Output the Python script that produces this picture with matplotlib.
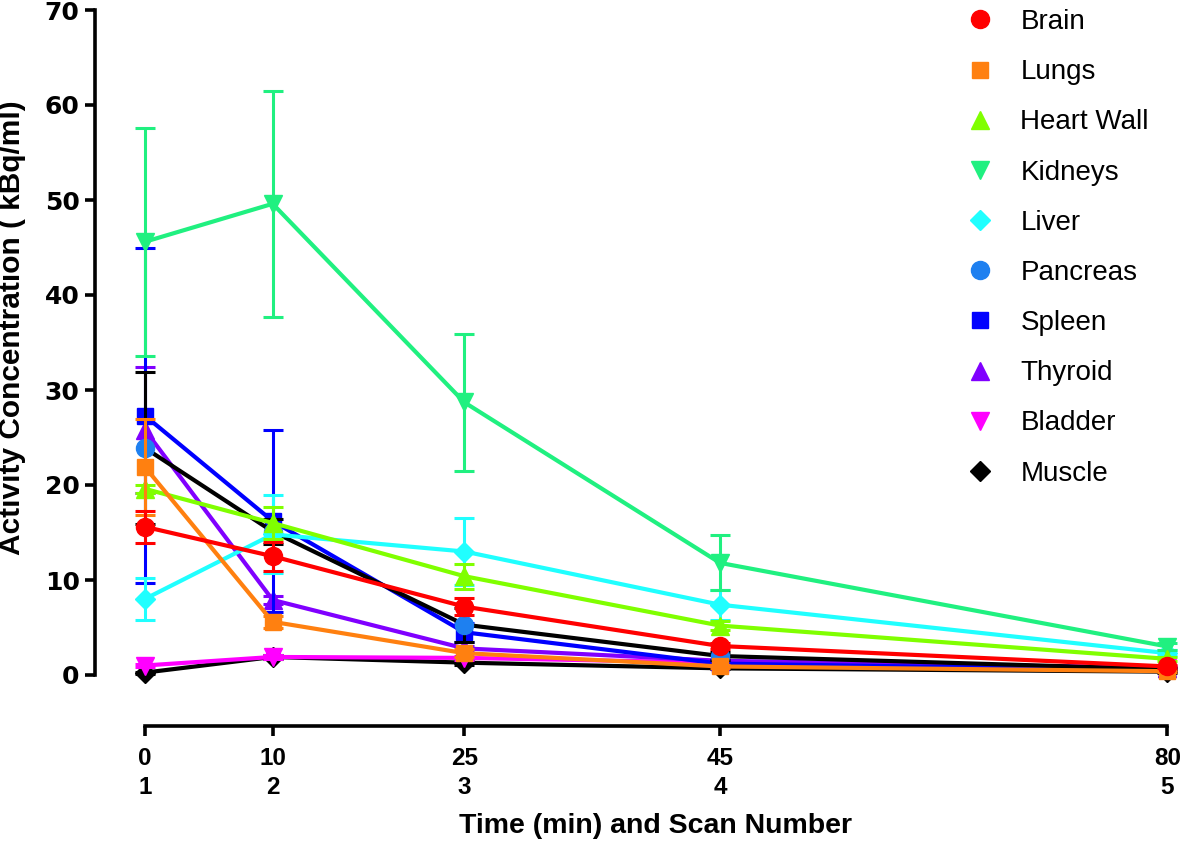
import matplotlib.pyplot as plt
from matplotlib.lines import Line2D
from matplotlib import font_manager

# time points (min) and scan numbers
times = [0, 10, 25, 45, 80]
scans = [1, 2, 3, 4, 5]

organs = ['Brain', 'Lungs', 'Heart Wall', 'Kidneys', 'Liver',
          'Pancreas', 'Spleen', 'Thyroid', 'Bladder', 'Muscle']

brain = [15.6, 12.5, 7.2, 3.05, 0.9]
brain_err = [1.7, 1.5, 0.9, 0.3, 0.2]
lungs = [21.9, 5.6, 2.3, 0.9, 0.4]
lungs_err = [5.1, 0.6, 0.4, 0.2, 0.1]
heart = [19.6, 16.0, 10.4, 5.2, 1.7]
heart_err = [0.4, 1.7, 1.3, 0.5, 0.2]
kidneys = [45.6, 49.6, 28.7, 11.8, 3.0]
kidneys_err = [12.0, 11.9, 7.2, 2.9, 0.4]
liver = [8.0, 14.8, 13.0, 7.4, 2.3]
liver_err = [2.2, 4.1, 3.5, 1.6, 0.3]
pancreas = [23.9, 15.1, 5.3, 2.0, 0.6]
pancreas_err = [8.0, 1.3, 1.8, 0.4, 0.1]
spleen = [27.3, 16.2, 4.5, 1.2, 0.5]
spleen_err = [17.6, 9.6, 1.0, 0.3, 0.1]
thyroid = [25.8, 7.9, 2.8, 1.5, 0.7]
thyroid_err = [6.6, 0.4, 0.3, 0.2, 0.1]
bladder = [1.0, 1.9, 1.8, 1.3, 0.8]
bladder_err = [0.2, 0.2, 0.2, 0.1, 0.1]
muscle = [0.25, 1.9, 1.3, 0.7, 0.35]
muscle_err = [0.1, 0.2, 0.2, 0.1, 0.1]

values = [brain, lungs, heart, kidneys, liver, pancreas, spleen, thyroid, bladder, muscle]
errors = [brain_err, lungs_err, heart_err, kidneys_err, liver_err,
          pancreas_err, spleen_err, thyroid_err, bladder_err, muscle_err]
markers = ['o', 's', '^', 'v', 'D', 'o', 's', '^', 'v', 'D']
mcolors = ['#FF0000', '#FF8010', '#80FF00', '#20F080', '#20FFFF',
           '#1E80F0', '#0000FF', '#8000FF', '#FF00FF', '#000000']
lcolors = ['#FF0000', '#FF8010', '#80FF00', '#20F080', '#20FFFF',
           '#000000', '#0000FF', '#8000FF', '#FF00FF', '#000000']
msizes = [13, 12, 13, 13, 10, 13, 12, 13, 13, 10]

names = {f.name for f in font_manager.fontManager.ttflist}
narrow = 'Liberation Sans Narrow' if 'Liberation Sans Narrow' in names else 'Liberation Sans'

fig = plt.figure(figsize=(11.81, 8.43), dpi=100)
ax = fig.add_axes([95/1181, 1 - 675/843, (1175 - 95)/1181, (675 - 10)/843])

for i in range(len(organs)):
    z = 20 - i
    ax.errorbar(times, values[i], yerr=errors[i], color=lcolors[i], lw=3,
                elinewidth=2.2, capsize=7.2, capthick=2.2, zorder=z, clip_on=False,
                marker='none')
    ax.plot(times, values[i], marker=markers[i], ms=msizes[i], color=mcolors[i],
            lw=0, zorder=z + 0.5, clip_on=False)

ax.set_xlim(-3.9, 80.6)
ax.set_ylim(0, 70)

for s in ['top', 'right']:
    ax.spines[s].set_visible(False)
ax.spines['left'].set_linewidth(2.6)
ax.spines['bottom'].set_linewidth(2.6)
ax.spines['bottom'].set_position(('outward', 36.5))
ax.spines['bottom'].set_bounds(0, 80)
ax.tick_params(axis='both', width=2.6, length=7, direction='out')
ax.tick_params(axis='y', pad=4)
ax.tick_params(axis='x', pad=8)

ax.set_yticks(range(0, 71, 10))
ax.set_xticks(times)
ax.set_xticklabels([f'{t}\n{s}' for t, s in zip(times, scans)])
for lab in ax.get_xticklabels():
    lab.set_fontfamily(narrow)
    lab.set_fontweight('bold')
    lab.set_fontsize(17.5)
    lab.set_linespacing(1.35)
for lab in ax.get_yticklabels():
    lab.set_fontfamily('DejaVu Sans')
    lab.set_fontweight('bold')
    lab.set_fontsize(18)

ax.set_ylabel('Activity Concentration ( kBq/ml)', fontfamily=narrow,
              fontweight='bold', fontsize=21.5)
ax.yaxis.set_label_coords(-0.064, 0.522)
ax.set_xlabel('Time (min) and Scan Number', fontfamily=narrow,
              fontweight='bold', fontsize=20.5)
ax.xaxis.set_label_coords(0.519, -0.208)

handles = [Line2D([], [], marker=markers[i], color=mcolors[i], lw=0, ms=msizes[i])
           for i in range(len(organs))]
fig.legend(handles, organs, loc='upper left', bbox_to_anchor=(955/1181, 1.0 + 2/843),
           frameon=False, prop={'family': 'Liberation Sans', 'size': 20},
           labelspacing=0.87, handlelength=1.0, handletextpad=0.95, borderaxespad=0)

fig.savefig('out.png', dpi=100)
